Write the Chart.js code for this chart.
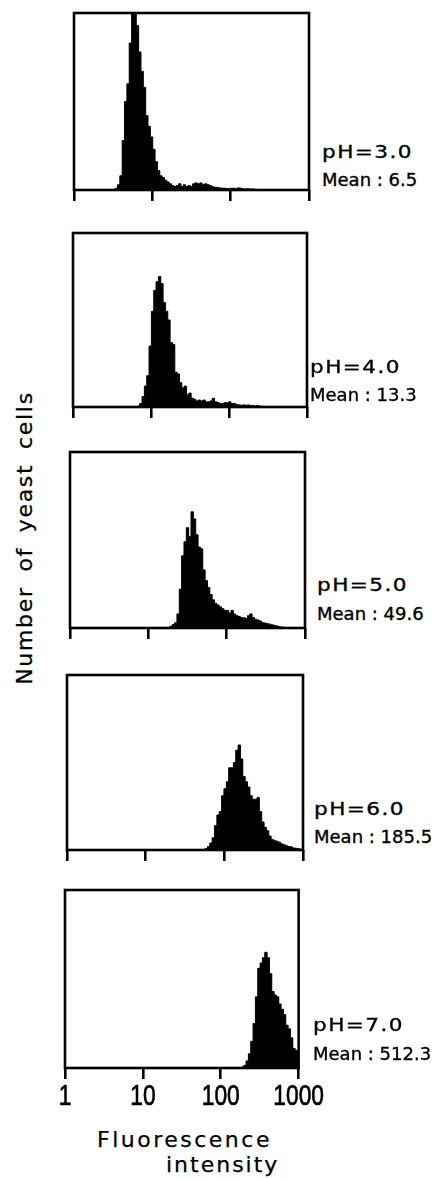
<!DOCTYPE html>
<html>
<head>
<meta charset="utf-8">
<script src="https://cdn.jsdelivr.net/npm/chart.js@4.4.0/dist/chart.umd.min.js"></script>
<style>
  html, body { margin: 0; padding: 0; background: #fff; }
  body { width: 444px; height: 1179px; position: relative; overflow: hidden;
         font-family: 'DejaVu Sans', sans-serif; color: #000; }
  canvas { position: absolute; }
  .lbl { position: absolute; font-size: 18px; line-height: 18px; white-space: nowrap;
         -webkit-text-stroke: 0.35px #000; }
  .ph { letter-spacing: 1.2px; transform: scaleX(1.2); transform-origin: left center; }
  .ytitle { position: absolute; width: 320px; height: 22px; left: -135px; top: 527px;
            font-size: 22px; line-height: 22px; text-align: center; white-space: nowrap;
            letter-spacing: 1.7px; word-spacing: 6px; transform: rotate(-90deg);
            -webkit-text-stroke: 0.25px #000; }
  .xtitle { position: absolute; font-size: 22px; line-height: 22px; white-space: nowrap;
            -webkit-text-stroke: 0.25px #000; }
</style>
</head>
<body>
<div class="ytitle">Number of yeast cells</div>
<div class="xtitle" style="left:97px; top:1129px; letter-spacing:2.5px;">Fluorescence</div>
<div class="xtitle" style="left:166px; top:1154px; letter-spacing:2px;">intensity</div>
<script>
// --- datos: histogramas (altura en % del recuadro), eje x en log10 de la intensidad ---
const tickLabels = ['1', '10', '100', '1000'];
const phLabels = ['pH=3.0', 'pH=4.0', 'pH=5.0', 'pH=6.0', 'pH=7.0'];
const meanLabels = ['Mean : 6.5', 'Mean : 13.3', 'Mean : 49.6', 'Mean : 185.5', 'Mean : 512.3'];

const binStep = 0.03;                          // ancho de canal (log10)
const starts = [0.51, 0.81, 1.26, 1.74, 2.25]; // primer canal de cada histograma

const countsPH3 = [0, 1, 3, 8, 28, 50, 60, 83, 100, 100, 93, 78, 67, 58, 42, 36, 30, 23, 16, 11,
    8, 7, 5.5, 4.5, 3.5, 2.5, 2, 2.5, 3.5, 2, 3, 2, 2.5, 2, 3.5, 4, 3.5, 4, 3, 3.5,
    3, 2.5, 2, 1.5, 1.5, 1.2, 1, 1, 0.8, 0.7, 1, 1, 0.7, 1.2, 1, 0.7, 0.6, 0.7, 0.5, 0.6,
    0.4, 0.3, 0];
const countsPH4 = [0, 0.5, 2, 6, 12, 18, 35, 55, 67, 72, 75, 71, 60, 55, 50, 37, 36, 20, 19, 14,
    11, 12, 7, 8, 5, 4.5, 3.5, 4, 3.5, 4, 3, 3, 3.5, 5, 3, 2.5, 2, 2, 2.5, 2.5,
    3, 2, 2, 1.5, 1.2, 1, 1.2, 1, 1.2, 0.8, 0.8, 0.6, 0.8, 0.5, 0.4, 0.2, 0.1, 0];
const countsPH5 = [0, 1, 2, 3, 8, 22, 41, 49, 57, 52, 66, 62, 53, 46, 45, 33, 27, 23, 19, 16,
    14, 13, 12, 11, 10, 10, 8.5, 10, 8, 7, 6.5, 6, 5.8, 5.5, 7, 8, 6, 5, 4.5, 4,
    3, 2.8, 2.5, 2.2, 1.8, 1.5, 1.2, 0.8, 0.5, 0.4, 0.2, 0];
const countsPH6 = [0, 0.8, 2, 4, 7, 14, 20, 22, 31, 35, 39, 47, 47, 50, 57, 60, 52, 42, 39, 36,
    31, 29, 29, 30, 22, 16, 13, 11, 8, 6, 5.5, 5, 4.5, 3.5, 3, 2.5, 2, 1.8, 1.2, 1,
    0.8, 0.5, 0.3];
const countsPH7 = [0, 0.5, 1.5, 4, 8, 15, 25, 40, 56, 59, 62, 65, 62, 53, 43, 41, 40, 36, 33, 30,
    24, 22, 17, 11, 10, 9];
const counts = [countsPH3, countsPH4, countsPH5, countsPH6, countsPH7];

// --- posiciones de los recuadros en la página ---
const boxes = [
    { left: 74, top: 13, width: 235, height: 177 },
    { left: 73, top: 233, width: 234, height: 174 },
    { left: 70, top: 452, width: 235, height: 176 },
    { left: 67, top: 675, width: 236, height: 175 },
    { left: 65, top: 890, width: 237, height: 178 }
];
const labelPos = [
    { left: 322, ph: 145, mean: 173 },
    { left: 310, ph: 360, mean: 388 },
    { left: 317, ph: 578, mean: 607 },
    { left: 314, ph: 802, mean: 830 },
    { left: 313, ph: 1018, mean: 1047 }
];

// escala lineal con etiquetas estrechas (tipografía condensada del original)
class NarrowTickScale extends Chart.LinearScale {
    drawLabels(chartArea) {
        const ctx = this.ctx;
        for (const item of this.getLabelItems(chartArea)) {
            const o = item.options;
            ctx.save();
            ctx.font = item.font.string;
            ctx.fillStyle = o.color;
            ctx.strokeStyle = o.color;
            ctx.lineWidth = 0.7;
            ctx.textAlign = o.textAlign;
            ctx.textBaseline = o.textBaseline;
            ctx.translate(o.translation[0], o.translation[1]);
            ctx.scale(0.76, 1);
            ctx.fillText(item.label, 0, item.textOffset);
            ctx.strokeText(item.label, 0, item.textOffset);
            ctx.restore();
        }
    }
}
NarrowTickScale.id = 'narrowLinear';
NarrowTickScale.defaults = Chart.LinearScale.defaults;
Chart.register(NarrowTickScale);

// recuadro completo alrededor del área del gráfico
const boxPlugin = {
    id: 'box',
    afterDatasetsDraw(chart) {
        const { ctx, chartArea: a } = chart;
        ctx.save();
        ctx.strokeStyle = '#000';
        ctx.lineWidth = 2.6;
        ctx.strokeRect(a.left, a.top, a.right - a.left, a.bottom - a.top);
        ctx.restore();
    }
};

function addLabel(text, cls, left, capTop) {
    const d = document.createElement('div');
    d.className = 'lbl ' + cls;
    d.textContent = text;
    d.style.left = left + 'px';
    d.style.top = (capTop - 2) + 'px';
    document.body.appendChild(d);
}

function makePanel(i) {
    const b = boxes[i];
    const last = i === boxes.length - 1;
    const pad = last ? { left: 12, right: 30, top: 4, bottom: 2 } : { left: 4, right: 4, top: 4, bottom: 2 };
    const axisH = last ? 11 + 36 : 11;

    const canvas = document.createElement('canvas');
    canvas.width = b.width + pad.left + pad.right;
    canvas.height = b.height + pad.top + pad.bottom + axisH;
    canvas.style.left = (b.left - pad.left) + 'px';
    canvas.style.top = (b.top - pad.top) + 'px';
    document.body.appendChild(canvas);

    const points = counts[i].map((v, k) => ({ x: starts[i] + k * binStep, y: v }));

    new Chart(canvas, {
        type: 'line',
        data: {
            datasets: [{
                data: points,
                stepped: 'middle',
                fill: 'origin',
                backgroundColor: '#000',
                borderColor: '#000',
                borderWidth: 1,
                pointRadius: 0
            }]
        },
        options: {
            responsive: false,
            animation: false,
            layout: { padding: pad },
            plugins: { legend: { display: false }, tooltip: { enabled: false } },
            scales: {
                x: {
                    type: 'narrowLinear',
                    min: 0,
                    max: 3,
                    border: { display: false },
                    grid: {
                        drawOnChartArea: false,
                        drawTicks: true,
                        tickLength: 11,
                        lineWidth: 2.6,
                        color: '#000'
                    },
                    ticks: {
                        display: last,
                        stepSize: 1,
                        padding: 0,
                        maxRotation: 0,
                        color: '#000',
                        font: { family: "'Liberation Sans', sans-serif", size: 30 },
                        callback: (v) => tickLabels[v]
                    }
                },
                y: { display: false, min: 0, max: 100 }
            }
        },
        plugins: [boxPlugin]
    });

    addLabel(phLabels[i], 'ph', labelPos[i].left, labelPos[i].ph);
    addLabel(meanLabels[i], 'mean', labelPos[i].left, labelPos[i].mean);
}

for (let i = 0; i < boxes.length; i++) {
    makePanel(i);
}
</script>
</body>
</html>
